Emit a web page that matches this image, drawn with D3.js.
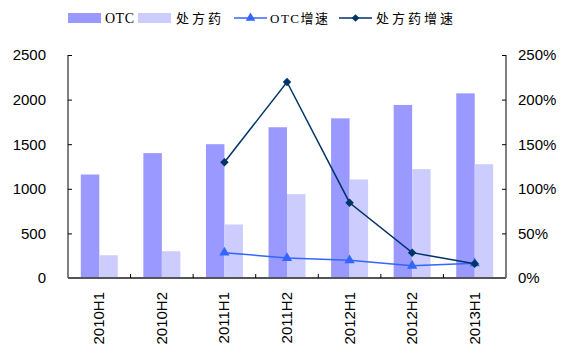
<!DOCTYPE html>
<html>
<head>
<meta charset="utf-8">
<script src="https://cdn.jsdelivr.net/npm/d3@7"></script>
<style>
  body { margin: 0; background: #fff; }
  text { font-family: "Liberation Sans", Arial, sans-serif; }
</style>
</head>
<body>
<svg id="chart" width="563" height="345"></svg>
<script>
var categories = ["2010H1", "2010H2", "2011H1", "2011H2", "2012H1", "2012H2", "2013H1"];
var otc = [1160, 1400, 1500, 1690, 1790, 1940, 2070];
var rx = [255, 300, 600, 940, 1105, 1220, 1275];
var otcGrowth = [null, null, 0.284, 0.224, 0.198, 0.138, 0.165];
var rxGrowth = [null, null, 1.297, 2.197, 0.844, 0.284, 0.160];
var leftTicks = [0, 500, 1000, 1500, 2000, 2500];
var rightTicks = [0, 0.5, 1, 1.5, 2, 2.5];

var margin = {top: 55, right: 57, bottom: 67, left: 68},
    width = 563 - margin.left - margin.right,
    height = 345 - margin.top - margin.bottom;

var svg = d3.select("#chart")
    .append("g")
    .attr("transform", "translate(" + margin.left + "," + margin.top + ")");

var x = d3.scaleBand().domain(categories).range([0, width]);
var xs = d3.scaleBand().domain(["otc", "rx"]).range([12.8, x.bandwidth() - 12.8]);
var y = d3.scaleLinear().domain([0, 2500]).range([height, 0]);
var y2 = d3.scaleLinear().domain([0, 2.5]).range([height, 0]);

// bars
var group = svg.selectAll(".grp")
    .data(categories)
    .enter().append("g")
    .attr("transform", function(d) { return "translate(" + x(d) + ",0)"; });

group.append("rect")
    .attr("x", xs("otc"))
    .attr("width", xs.bandwidth())
    .attr("y", function(d, i) { return y(otc[i]); })
    .attr("height", function(d, i) { return height - y(otc[i]); })
    .attr("fill", "#9999FF");

group.append("rect")
    .attr("x", xs("rx"))
    .attr("width", xs.bandwidth())
    .attr("y", function(d, i) { return y(rx[i]); })
    .attr("height", function(d, i) { return height - y(rx[i]); })
    .attr("fill", "#CCCCFF");

// axes
var left = svg.append("g")
    .call(d3.axisLeft(y).tickValues(leftTicks).tickSize(-4).tickPadding(22).tickFormat(d3.format("d")));
left.select(".domain").attr("stroke", "#000").attr("d", "M0,0V" + height);
left.selectAll("text").style("font-size", "15px").attr("fill", "#000");

var right = svg.append("g")
    .attr("transform", "translate(" + width + ",0)")
    .call(d3.axisRight(y2).tickValues(rightTicks).tickSize(-4).tickPadding(12)
      .tickFormat(function(d) { return Math.round(d * 100) + "%"; }));
right.select(".domain").attr("stroke", "#000").attr("d", "M0,0V" + height);
right.selectAll("text").style("font-size", "15px").attr("fill", "#000");

var bottom = svg.append("g")
    .attr("transform", "translate(0," + height + ")");
bottom.append("line")
    .attr("x1", 0).attr("x2", width)
    .attr("stroke", "#555").attr("stroke-width", 2);
bottom.selectAll(".tk")
    .data(categories.slice(1))
    .enter().append("line")
    .attr("x1", function(d) { return x(d); })
    .attr("x2", function(d) { return x(d); })
    .attr("y1", 0).attr("y2", -4)
    .attr("stroke", "#000");
bottom.selectAll(".lbl")
    .data(categories)
    .enter().append("text")
    .attr("transform", function(d) { return "translate(" + (x(d) + x.bandwidth() / 2 + 5) + ",14) rotate(-90)"; })
    .attr("text-anchor", "end")
    .style("font-size", "15px")
    .text(function(d) { return d; });

// growth lines
var mid = function(i) { return x(categories[i]) + x.bandwidth() / 2; };

function growthLine(vals, color, width) {
  var pts = vals.map(function(v, i) { return {i: i, v: v}; }).filter(function(p) { return p.v !== null; });
  svg.append("path")
      .datum(pts)
      .attr("fill", "none")
      .attr("stroke", color)
      .attr("stroke-width", width)
      .attr("d", d3.line().x(function(p) { return mid(p.i); }).y(function(p) { return y2(p.v); }));
  return pts;
}

var p1 = growthLine(otcGrowth, "#3366FF", 1.5);
svg.selectAll(".tri")
    .data(p1)
    .enter().append("path")
    .attr("transform", function(p) { return "translate(" + mid(p.i) + "," + y2(p.v) + ")"; })
    .attr("d", d3.symbol().type(d3.symbolTriangle).size(45))
    .attr("fill", "#3366FF");

var p2 = growthLine(rxGrowth, "#003366", 1.5);
svg.selectAll(".dia")
    .data(p2)
    .enter().append("path")
    .attr("transform", function(p) { return "translate(" + mid(p.i) + "," + y2(p.v) + ") rotate(45)"; })
    .attr("d", d3.symbol().type(d3.symbolSquare).size(36))
    .attr("fill", "#003366");

// legend
var legend = d3.select("#chart").append("g").attr("transform", "translate(0,18)");
var legFont = "'Liberation Serif', 'Noto Sans CJK SC', serif";

legend.append("rect").attr("x", 68).attr("y", -5).attr("width", 33).attr("height", 10).attr("fill", "#9999FF");
legend.append("text").attr("x", 105).attr("y", 5).style("font-family", legFont).style("font-size", "14px").style("letter-spacing", "0.5px").text("OTC");
legend.append("rect").attr("x", 138).attr("y", -5).attr("width", 33).attr("height", 10).attr("fill", "#CCCCFF");
legend.append("text").attr("x", 176).attr("y", 5).style("font-family", legFont).style("font-size", "13px").style("letter-spacing", "3px").text("处方药");

legend.append("line").attr("x1", 234).attr("x2", 267).attr("stroke", "#3366FF").attr("stroke-width", 1.5);
legend.append("path").attr("transform", "translate(250.5,0)").attr("d", d3.symbol().type(d3.symbolTriangle).size(40)).attr("fill", "#3366FF");
legend.append("text").attr("x", 270).attr("y", 5).style("font-family", legFont).style("font-size", "13px").style("letter-spacing", "1.5px").text("OTC增速");

legend.append("line").attr("x1", 339).attr("x2", 372).attr("stroke", "#003366").attr("stroke-width", 1.5);
legend.append("path").attr("transform", "translate(355.5,0) rotate(45)").attr("d", d3.symbol().type(d3.symbolSquare).size(30)).attr("fill", "#003366");
legend.append("text").attr("x", 376).attr("y", 5).style("font-family", legFont).style("font-size", "13px").style("letter-spacing", "3px").text("处方药增速");
</script>
</body>
</html>
